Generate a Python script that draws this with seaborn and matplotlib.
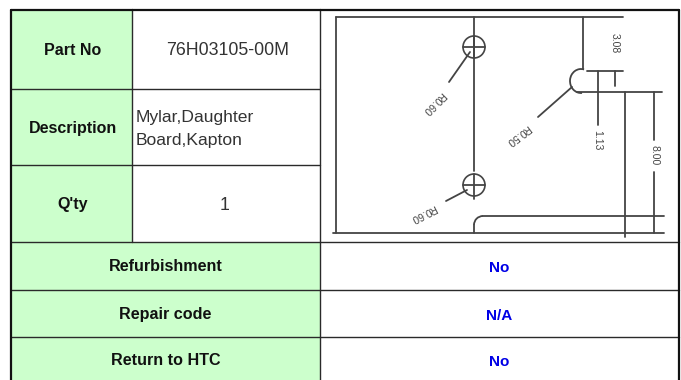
import numpy as np
import pandas as pd
import matplotlib.pyplot as plt
from matplotlib.patches import Rectangle, Circle, Arc
import seaborn as sns

#%% table content
top_labels = ["Part No", "Description", "Q'ty"]
top_values = ["76H03105-00M", "Mylar,Daughter\nBoard,Kapton", "1"]
bottom_labels = ["Refurbishment", "Repair code", "Return to HTC"]
bottom_values = ["No", "N/A", "No"]
dim_labels = ["3.08", "1.13", "8.00", "R0.60", "R0.50", "R0.60"]

# grid, in pixels of the picture
col_edges = [11, 132, 320, 679]
top_rows = [9, 89, 165, 242]
bottom_rows = [242, 290, 337, 380]

green = '#CCFFCC'
line_col = '#2a2a2a'
draw_col = '#444444'
blue = '#0000E6'

sns.set_theme(style='white')
plt.rcParams['font.family'] = ['Liberation Sans', 'DejaVu Sans']

fig = plt.figure()
fig.set_size_inches(6.81, 3.80)
ax = fig.add_axes([0, 0, 1, 1])
ax.set_xlim(0, 681)
ax.set_ylim(380, 0)
ax.axis('off')

#%% cell fills
ax.add_patch(Rectangle((col_edges[0], top_rows[0]), col_edges[1] - col_edges[0], top_rows[-1] - top_rows[0],
                       fc=green, ec='none', zorder=0))
ax.add_patch(Rectangle((col_edges[0], bottom_rows[0]), col_edges[2] - col_edges[0], bottom_rows[-1] - bottom_rows[0],
                       fc=green, ec='none', zorder=0))

#%% grid lines
grid = []
def seg(rows, x0, y0, x1, y1):
    n = len(rows) // 2
    rows.append((n, x0, y0))
    rows.append((n, x1, y1))

for y in top_rows[1:3]:
    seg(grid, col_edges[0], y, col_edges[2], y)
for y in bottom_rows[:3]:
    seg(grid, col_edges[0], y, col_edges[3], y)
seg(grid, col_edges[1], top_rows[0], col_edges[1], top_rows[-1])
seg(grid, col_edges[2], top_rows[0], col_edges[2], bottom_rows[-1])
df_grid = pd.DataFrame(grid, columns=['seg', 'x', 'y'])
sns.lineplot(data=df_grid, x='x', y='y', units='seg', estimator=None, sort=False,
             color=line_col, lw=1.0, ax=ax)

# outer frame
frame = []
seg(frame, col_edges[0], 9.5, col_edges[3], 9.5)
seg(frame, col_edges[0], 9.5, col_edges[0], 380)
seg(frame, col_edges[3], 9.5, col_edges[3], 380)
df_frame = pd.DataFrame(frame, columns=['seg', 'x', 'y'])
sns.lineplot(data=df_frame, x='x', y='y', units='seg', estimator=None, sort=False,
             color='#111111', lw=1.6, ax=ax)

#%% part drawing
drawing = []
seg(drawing, 336, 17, 623, 17)
seg(drawing, 336, 17, 336, 233)
seg(drawing, 333, 233, 664, 233)
seg(drawing, 474, 17, 474, 171)
seg(drawing, 474, 199, 474, 174)
seg(drawing, 474, 225, 474, 233)
seg(drawing, 483, 216, 664, 216)
seg(drawing, 583, 17, 583, 69)
seg(drawing, 577, 92, 662, 92)
seg(drawing, 587, 71, 623, 71)
seg(drawing, 598, 71, 598, 125)
seg(drawing, 615, 71, 615, 86)
seg(drawing, 625, 92, 625, 237)
seg(drawing, 654, 92, 654, 140)
seg(drawing, 654, 172, 654, 233)
seg(drawing, 449, 82, 470, 52)
seg(drawing, 538, 117, 572, 87)
seg(drawing, 446, 201, 467, 190)
# cross hairs
seg(drawing, 463, 47, 485, 47)
seg(drawing, 463, 185, 485, 185)
seg(drawing, 474, 36, 474, 58)
df_draw = pd.DataFrame(drawing, columns=['seg', 'x', 'y'])
sns.lineplot(data=df_draw, x='x', y='y', units='seg', estimator=None, sort=False,
             color=draw_col, lw=1.3, ax=ax)

for cy in [47, 185]:
    ax.add_patch(Circle((474, cy), 11, fc='none', ec=draw_col, lw=1.2))
# corners (y axis is flipped so the angles run clockwise)
ax.add_patch(Arc((483, 225), 18, 18, theta1=180, theta2=270, ec=draw_col, lw=1.3))
ax.add_patch(Arc((581, 81), 22, 24, theta1=85, theta2=285, ec=draw_col, lw=1.3))

for txt, x, y, rot in zip(dim_labels,
                          [615, 597, 654, 433, 518, 423],
                          [43, 140, 155, 103, 135, 213],
                          [-90, -90, -90, 225, 217, 207]):
    ax.text(x, y, txt, fontsize=7.5, color=draw_col, ha='center', va='center',
            rotation=rot, rotation_mode='anchor')

#%% table texts
for i, (lab, val) in enumerate(zip(top_labels, top_values)):
    yc = (top_rows[i] + top_rows[i + 1]) / 2
    ax.text((col_edges[0] + col_edges[1]) / 2 + 1, yc + 1.5, lab, fontsize=11.5, fontweight='bold',
            color='#111111', ha='center', va='center')
    if '\n' in val:
        ax.text(136, yc + 2, val, fontsize=12.6, color='#333333', ha='left', va='center', linespacing=1.6)
    elif val == "1":
        ax.text(225, yc + 1.5, val, fontsize=12.8, color='#333333', ha='center', va='center')
    else:
        ax.text(228, yc + 1.5, val, fontsize=12.8, color='#333333', ha='center', va='center')

for i, (lab, val) in enumerate(zip(bottom_labels, bottom_values)):
    yc = (bottom_rows[i] + bottom_rows[i + 1]) / 2
    if i == 2:
        yc = 360
    ax.text(165.5, yc + 0.5, lab, fontsize=11.6, fontweight='bold', color='#111111', ha='center', va='center')
    ax.text(499, yc + 2, val, fontsize=11, fontweight='bold', color=blue, ha='center', va='center')

fig.savefig('out.png', dpi=100)
